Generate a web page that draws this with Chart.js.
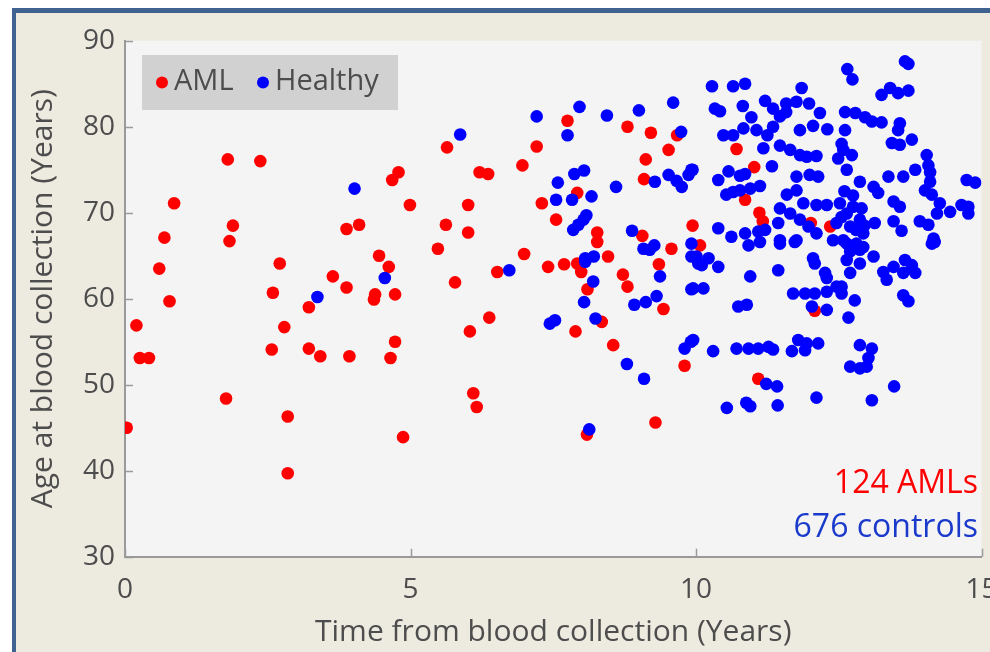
<!DOCTYPE html>
<html>
<head>
<meta charset="utf-8">
<script src="https://cdn.jsdelivr.net/npm/chart.js@4/dist/chart.umd.min.js"></script>
<style>
  html, body { margin: 0; padding: 0; background: #ffffff; overflow: hidden; }
  #frame {
    position: absolute; left: 12px; top: 8px; width: 990px; height: 660px;
    border-top: 5px solid #3f6290; border-left: 4px solid #3f6290;
    background: #edebe0;
  }
  #wrap { position: absolute; left: 0; top: 0; width: 990px; height: 652px; }
</style>
</head>
<body>
<div id="frame"></div>
<div id="wrap"><canvas id="scatter" width="990" height="652"></canvas></div>
<script>
// AML cases: time from blood collection (years) and age at collection (years)
const amlTime = [1.80, 2.37, 0.86, 1.89, 0.69, 1.83, 2.71, 0.60, 0.78, 2.59, 0.20, 0.26, 0.42, 2.57, 2.79, 3.22, 3.22, 3.42, 3.93, 4.65,
    4.73, 3.64, 3.88, 3.88, 4.10, 4.45, 4.62, 4.38, 4.36, 4.73, 4.79, 4.68, 4.99, 1.77, 2.85, 0.03, 4.87, 2.85, 7.75, 5.64,
    7.21, 8.80, 9.21, 9.67, 9.52, 9.12, 9.09, 6.21, 6.36, 6.96, 7.92, 7.30, 7.55, 6.01, 5.62, 6.01, 5.48, 6.99, 6.52, 5.78,
    7.41, 7.69, 7.92, 7.99, 8.27, 8.27, 8.46, 8.10, 8.72, 8.80, 9.06, 9.57, 9.35, 9.43, 9.94, 6.38, 6.04, 7.89, 8.35, 8.55,
    9.80, 6.10, 6.16, 9.29, 8.09, 10.71, 11.02, 10.86, 11.11, 11.17, 10.07, 12.01, 12.35, 12.08, 11.09];
const amlAge = [76.2, 76.0, 71.1, 68.5, 67.1, 66.7, 64.1, 63.5, 59.7, 60.7, 56.9, 53.1, 53.1, 54.1, 56.7, 59.0, 54.2, 53.3, 53.3, 53.1,
    55.0, 62.6, 61.3, 68.1, 68.6, 65.0, 63.7, 60.5, 59.9, 60.5, 74.7, 73.8, 70.9, 48.4, 46.3, 45.0, 43.9, 39.7, 80.7, 77.6,
    77.7, 80.0, 79.3, 79.0, 77.3, 76.2, 73.9, 74.7, 74.5, 75.5, 72.3, 71.1, 69.2, 70.9, 68.6, 67.7, 65.8, 65.2, 63.1, 61.9,
    63.7, 64.0, 64.1, 63.1, 67.7, 66.6, 64.9, 61.1, 62.8, 61.4, 67.3, 65.8, 64.0, 58.8, 68.5, 57.8, 56.2, 56.2, 57.3, 54.6,
    52.2, 49.0, 47.4, 45.6, 44.2, 77.4, 75.3, 71.5, 70.0, 69.0, 66.2, 68.8, 68.4, 58.6, 50.7];

// healthy controls
const healthyTime = [4.02, 4.55, 3.37, 5.87, 7.21, 7.96, 7.75, 8.44, 9.00, 9.60, 9.74, 7.87, 8.04, 7.58, 8.60, 9.28, 9.52, 9.66, 9.75, 9.87,
    9.94, 7.55, 7.83, 8.17, 7.85, 7.94, 8.03, 8.08, 8.88, 9.08, 9.19, 9.27, 8.06, 8.21, 8.06, 9.37, 9.31, 8.92, 9.12, 8.20,
    8.04, 8.24, 7.44, 7.53, 8.79, 9.09, 9.80, 9.91, 8.13, 9.92, 9.92, 10.04, 9.92, 6.73,
    10.28, 10.65, 10.86, 11.85, 10.33, 10.42, 10.82, 10.97, 11.21, 11.35, 11.58, 11.76, 11.98, 12.17, 10.48, 10.65, 10.83, 11.06, 11.25, 11.47,
    11.58, 11.35, 11.82, 12.05, 12.30, 11.18, 11.47, 11.65, 11.82, 11.94, 12.11, 11.33, 11.76, 11.99, 12.14, 10.39, 10.57, 10.77, 10.86, 11.12,
    10.53, 10.65, 10.77, 10.95, 9.92, 11.59, 11.76, 11.88, 12.11, 12.29, 11.47, 11.44, 11.65, 11.82, 11.97, 12.11, 10.39, 10.62, 10.86, 11.09,
    11.21, 11.47, 11.76, 12.46, 12.40, 12.49,
    13.66, 13.72, 12.65, 12.74, 13.25, 13.40, 13.54, 13.72, 12.61, 12.79, 12.96, 13.08, 13.25, 12.61, 13.57, 13.54, 13.43, 13.57, 13.78, 12.73,
    12.58, 14.04, 14.07, 14.10, 14.10, 13.63, 13.84, 13.37, 14.74, 14.89, 12.64, 12.87, 13.11, 13.19, 14.01, 14.13, 13.46, 13.57, 14.27, 14.22,
    14.45, 14.65, 14.77, 14.77, 13.92, 14.07, 13.13, 13.46, 13.60, 14.16, 14.18, 12.52, 12.64, 12.75, 12.87, 12.70, 12.93, 12.58, 12.81, 12.93,
    10.01, 10.22, 10.39, 10.10, 10.95, 11.44, 10.92, 11.12, 11.47, 11.73, 9.95, 10.13, 10.74, 10.89, 11.70, 11.91, 12.08, 12.29, 12.03, 12.29,
    12.05, 12.08, 12.26, 12.29, 12.46, 9.95, 10.30, 10.71, 10.92, 11.09, 11.27, 11.35, 11.68, 11.79, 11.94, 11.91, 12.14, 11.23, 11.42, 10.54,
    10.88, 10.95, 11.43, 12.11,
    12.64, 12.87, 13.11, 12.64, 12.87, 12.70, 12.55, 12.55, 13.28, 13.46, 13.66, 13.78, 13.84, 13.34, 13.63, 14.13, 13.63, 13.72, 12.78, 12.67,
    12.87, 13.08, 13.02, 12.70, 12.87, 12.99, 13.47, 13.08,
    12.75, 12.80, 12.90, 12.60, 12.70, 12.95, 12.55, 12.55];
const healthyAge = [72.8, 62.4, 60.2, 79.1, 81.2, 82.3, 79.0, 81.3, 81.9, 82.8, 79.4, 74.5, 74.9, 73.5, 73.0, 73.6, 74.4, 73.7, 73.0, 74.4,
    75.0, 71.5, 71.5, 71.9, 68.0, 68.6, 69.2, 69.7, 67.9, 65.8, 65.7, 66.2, 64.7, 64.9, 64.3, 62.6, 60.3, 59.3, 59.6, 62.0,
    59.6, 57.7, 57.1, 57.5, 52.4, 50.7, 54.2, 55.0, 44.8, 66.4, 64.9, 64.1, 61.1, 63.3,
    84.7, 84.7, 85.0, 84.5, 82.1, 81.8, 82.4, 81.1, 83.0, 82.1, 82.7, 82.9, 82.7, 81.6, 79.0, 79.0, 79.8, 79.6, 79.0, 81.2,
    81.7, 80.0, 79.6, 80.1, 79.7, 77.5, 77.8, 77.3, 76.7, 76.5, 76.6, 75.4, 74.2, 74.4, 74.2, 73.8, 74.8, 74.3, 74.5, 73.1,
    72.1, 72.4, 72.6, 72.8, 75.0, 72.1, 72.6, 71.1, 70.9, 70.9, 70.5, 68.8, 69.9, 69.2, 68.4, 67.6, 68.2, 67.2, 67.6, 67.8,
    68.0, 66.8, 66.8, 68.8, 66.8, 76.3,
    87.6, 87.3, 86.7, 85.5, 83.7, 84.5, 83.9, 84.2, 81.7, 81.6, 81.1, 80.6, 80.5, 79.6, 80.4, 79.6, 78.1, 77.9, 78.5, 76.7,
    77.3, 76.7, 75.5, 74.7, 73.6, 74.2, 75.0, 74.2, 73.8, 73.5, 75.0, 73.6, 73.0, 72.3, 72.6, 72.1, 71.3, 70.7, 71.1, 69.9,
    70.1, 70.9, 70.7, 69.9, 69.0, 68.6, 68.8, 69.0, 67.9, 67.0, 66.6, 71.1, 69.9, 70.7, 69.2, 68.4, 67.6, 66.8, 66.4, 66.0,
    64.9, 64.7, 63.7, 63.9, 62.6, 63.3, 66.2, 66.6, 66.4, 66.6, 61.2, 61.2, 59.1, 59.3, 60.6, 60.6, 60.6, 60.8, 59.1, 58.7,
    64.7, 64.1, 63.0, 62.4, 61.4, 55.2, 53.9, 54.2, 54.2, 54.2, 54.4, 54.1, 53.9, 55.2, 54.8, 54.0, 54.8, 50.1, 49.8, 47.3,
    47.9, 47.5, 47.6, 48.5,
    66.4, 65.7, 64.9, 64.5, 64.1, 63.0, 61.4, 60.6, 63.1, 63.7, 64.5, 63.9, 63.0, 62.2, 63.0, 66.4, 60.4, 59.7, 59.8, 57.8,
    54.6, 54.2, 53.1, 52.1, 51.9, 52.1, 49.8, 48.2,
    72.0, 68.0, 70.5, 72.5, 65.5, 68.5, 69.5, 78.0];

const xTicks = [0, 5, 10, 15];
const yTicks = [30, 40, 50, 60, 70, 80, 90];
const countLabels = ["124 AMLs", "676 controls"];

const FONT = "'Open Sans', sans-serif";
const textGray = "#4d4d4d";
const axisGray = "#9a9a9a";

function toPoints(xs, ys) {
    return xs.map((x, i) => ({ x: x, y: ys[i] }));
}

// plot area fill, inward tick marks, legend box and the two count labels
const decorPlugin = {
    id: "decor",
    beforeDraw(chart) {
        const { ctx, chartArea: a } = chart;
        ctx.save();
        ctx.fillStyle = "#f4f4f4";
        ctx.fillRect(a.left, a.top, a.right - a.left, a.bottom - a.top);
        ctx.restore();
    },
    afterDraw(chart) {
        const { ctx, chartArea: a, scales } = chart;
        ctx.save();
        ctx.strokeStyle = axisGray;
        ctx.lineWidth = 1.5;
        ctx.beginPath();
        yTicks.forEach(v => {
            const py = Math.round(scales.y.getPixelForValue(v)) + 0.5;
            ctx.moveTo(a.left, py);
            ctx.lineTo(a.left + 8, py);
        });
        xTicks.forEach(v => {
            const px = Math.round(scales.x.getPixelForValue(v)) + 0.5;
            ctx.moveTo(px, a.bottom);
            ctx.lineTo(px, a.bottom - 8);
        });
        ctx.stroke();

        // legend
        ctx.fillStyle = "#d1d1d1";
        ctx.fillRect(142, 55, 256, 55);
        ctx.font = "29px " + FONT;
        ctx.textBaseline = "middle";
        ctx.textAlign = "left";
        const legendX = [162, 263];
        chart.data.datasets.forEach((ds, i) => {
            ctx.fillStyle = ds.backgroundColor;
            ctx.beginPath();
            ctx.arc(legendX[i], 82.5, 6, 0, Math.PI * 2);
            ctx.fill();
            ctx.fillStyle = textGray;
            ctx.fillText(ds.label, legendX[i] + 12, 82);
        });

        // counts
        ctx.font = "32px " + FONT;
        ctx.textAlign = "right";
        ctx.textBaseline = "alphabetic";
        ctx.fillStyle = "#ff0000";
        ctx.fillText(countLabels[0], 978, 493);
        ctx.fillStyle = "#1a3acc";
        ctx.fillText(countLabels[1], 978, 537);
        ctx.restore();
    }
};

new Chart(document.getElementById("scatter"), {
    type: "scatter",
    data: {
        datasets: [
            {
                label: "AML",
                data: toPoints(amlTime, amlAge),
                backgroundColor: "#ff0000",
                pointRadius: 6.3,
                pointBorderWidth: 0,
                order: 1
            },
            {
                label: "Healthy",
                data: toPoints(healthyTime, healthyAge),
                backgroundColor: "#0000ff",
                pointRadius: 6.3,
                pointBorderWidth: 0,
                order: 0
            }
        ]
    },
    options: {
        responsive: false,
        animation: false,
        devicePixelRatio: 1,
        layout: { padding: { top: 40.7, right: 8.5, left: 0, bottom: 0 } },
        plugins: {
            legend: { display: false },
            tooltip: { enabled: false }
        },
        scales: {
            x: {
                type: "linear",
                min: 0,
                max: 15,
                afterBuildTicks: scale => { scale.ticks = xTicks.map(v => ({ value: v })); },
                afterFit: scale => {
                    scale.height = 95.3;
                    scale.paddingLeft = 0;
                    scale.paddingRight = 0;
                },
                grid: { display: false, drawTicks: false },
                border: { display: true, color: axisGray, width: 2 },
                ticks: {
                    padding: 17,
                    color: textGray,
                    font: { family: FONT, size: 28 },
                    maxRotation: 0
                },
                title: {
                    display: true,
                    text: "Time from blood collection (Years)",
                    color: textGray,
                    font: { family: FONT, size: 30 },
                    padding: { top: 0, bottom: 2 }
                }
            },
            y: {
                type: "linear",
                min: 30,
                max: 90,
                afterBuildTicks: scale => { scale.ticks = yTicks.map(v => ({ value: v })); },
                afterFit: scale => {
                    scale.width = 125;
                    scale.paddingTop = 0;
                    scale.paddingBottom = 0;
                },
                grid: { display: false, drawTicks: false },
                border: { display: true, color: axisGray, width: 2 },
                ticks: {
                    padding: 10,
                    color: textGray,
                    font: { family: FONT, size: 28 }
                },
                title: {
                    display: true,
                    text: "Age at blood collection (Years)",
                    color: textGray,
                    font: { family: FONT, size: 30 },
                    padding: { top: 25, bottom: 0 }
                }
            }
        }
    },
    plugins: [decorPlugin]
});
</script>
</body>
</html>
